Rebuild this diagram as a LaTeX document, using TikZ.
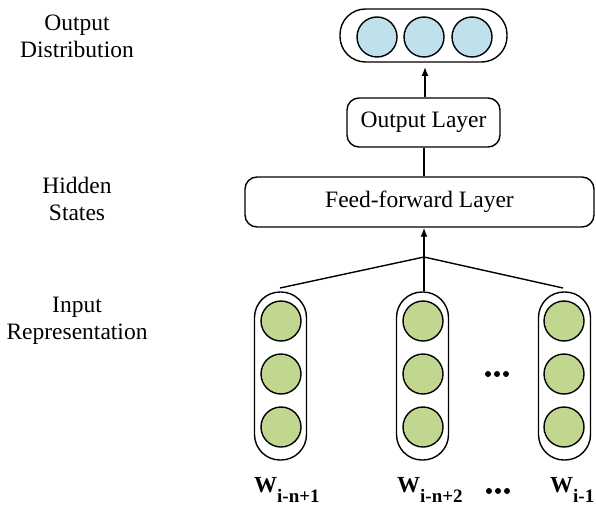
\documentclass[tikz,border=0pt]{standalone}
\usepackage{fontspec}
\setmainfont{Liberation Serif}
\usetikzlibrary{arrows.meta}
\definecolor{outblue}{RGB}{190,225,235}
\definecolor{ingreen}{RGB}{193,215,143}
\tikzset{
  lw/.style={line width=1.4pt},
  capsule/.style={draw, lw, rounded corners=25.5pt, inner sep=0pt},
  box/.style={draw, lw, rounded corners=12pt, inner sep=0pt, font=\fontsize{23.5}{27}\selectfont},
  bluecirc/.style={circle, draw, lw, fill=outblue, minimum size=40pt, inner sep=0pt},
  greencirc/.style={circle, draw, lw, fill=ingreen, minimum size=40pt, inner sep=0pt},
  lbl/.style={align=center, font=\fontsize{23.5}{27}\selectfont, inner sep=0pt},
  conn/.style={lw},
  arr/.style={lw, -{Latex[length=9pt,width=7pt]}},
  dot/.style={circle, fill=black, minimum size=6pt, inner sep=0pt},
  wlabel/.style={anchor=base west, inner sep=0pt, font=\fontsize{23}{23}\selectfont\bfseries},
}
\newcommand{\subl}[1]{\raisebox{-10pt}{\fontsize{19}{19}\selectfont\bfseries #1}}
\begin{document}
\begin{tikzpicture}[x=1pt,y=-1pt]
\useasboundingbox (0,0) rectangle (596,505);
% left labels
\node[lbl] (lOut) at (77,36.5) {Output\\Distribution};
\node[lbl] (lHid) at (77,199) {Hidden\\States};
\node[lbl] (lIn) at (77,320.5) {Input\\Representation};
% output distribution
\node[capsule, minimum width=167pt, minimum height=53pt] (outcap) at (423.5,35.5) {};
\node[bluecirc] (o1) at (377,37) {};
\node[bluecirc] (o2) at (424,37) {};
\node[bluecirc] (o3) at (472,37) {};
% output layer
\node[box, minimum width=153pt, minimum height=49pt] (outl) at (423.5,122.5) {Output Layer};
% feed-forward
\node[box, minimum width=349pt, minimum height=50pt] (ff) at (419.5,202) {Feed-forward Layer};
% input capsules
\node[capsule, minimum width=52pt, minimum height=168pt] (c1) at (280.5,376) {};
\node[capsule, minimum width=52pt, minimum height=168pt] (c2) at (422.5,376) {};
\node[capsule, minimum width=52pt, minimum height=168pt] (c3) at (564.5,376) {};
\foreach \n/\x in {1/281,2/423,3/564}{
  \node[greencirc] (g\n a) at (\x,321) {};
  \node[greencirc] (g\n b) at (\x,374) {};
  \node[greencirc] (g\n c) at (\x,427) {};
}
% dots
\node[dot] (d1) at (488,374) {};
\node[dot] (d2) at (497,374) {};
\node[dot] (d3) at (506,374) {};
\node[dot] (e1) at (489,491) {};
\node[dot] (e2) at (498,491) {};
\node[dot] (e3) at (507,491) {};
% W labels
\node[wlabel] (w1) at (254,492) {W\subl{i-n+1}};
\node[wlabel] (w2) at (397,492) {W\subl{i-n+2}};
\node[wlabel] (w3) at (550,492) {W\subl{i-1}};
% connectors
\coordinate (j) at (424,257);
\coordinate (t1) at (280,288);
\coordinate (t3) at (563,288);
\coordinate (aoTip) at (425,67);
\draw[conn] (t1) -- (j) -- (t3);
\draw[conn] (c2.north -| j) -- (j);
\draw[arr] (j) -- (j |- ff.south);
\draw[conn] (outl.south -| 424,0) -- (ff.north -| 424,0);
\draw[arr] (outl.north -| aoTip) -- (aoTip);
\end{tikzpicture}
\end{document}
